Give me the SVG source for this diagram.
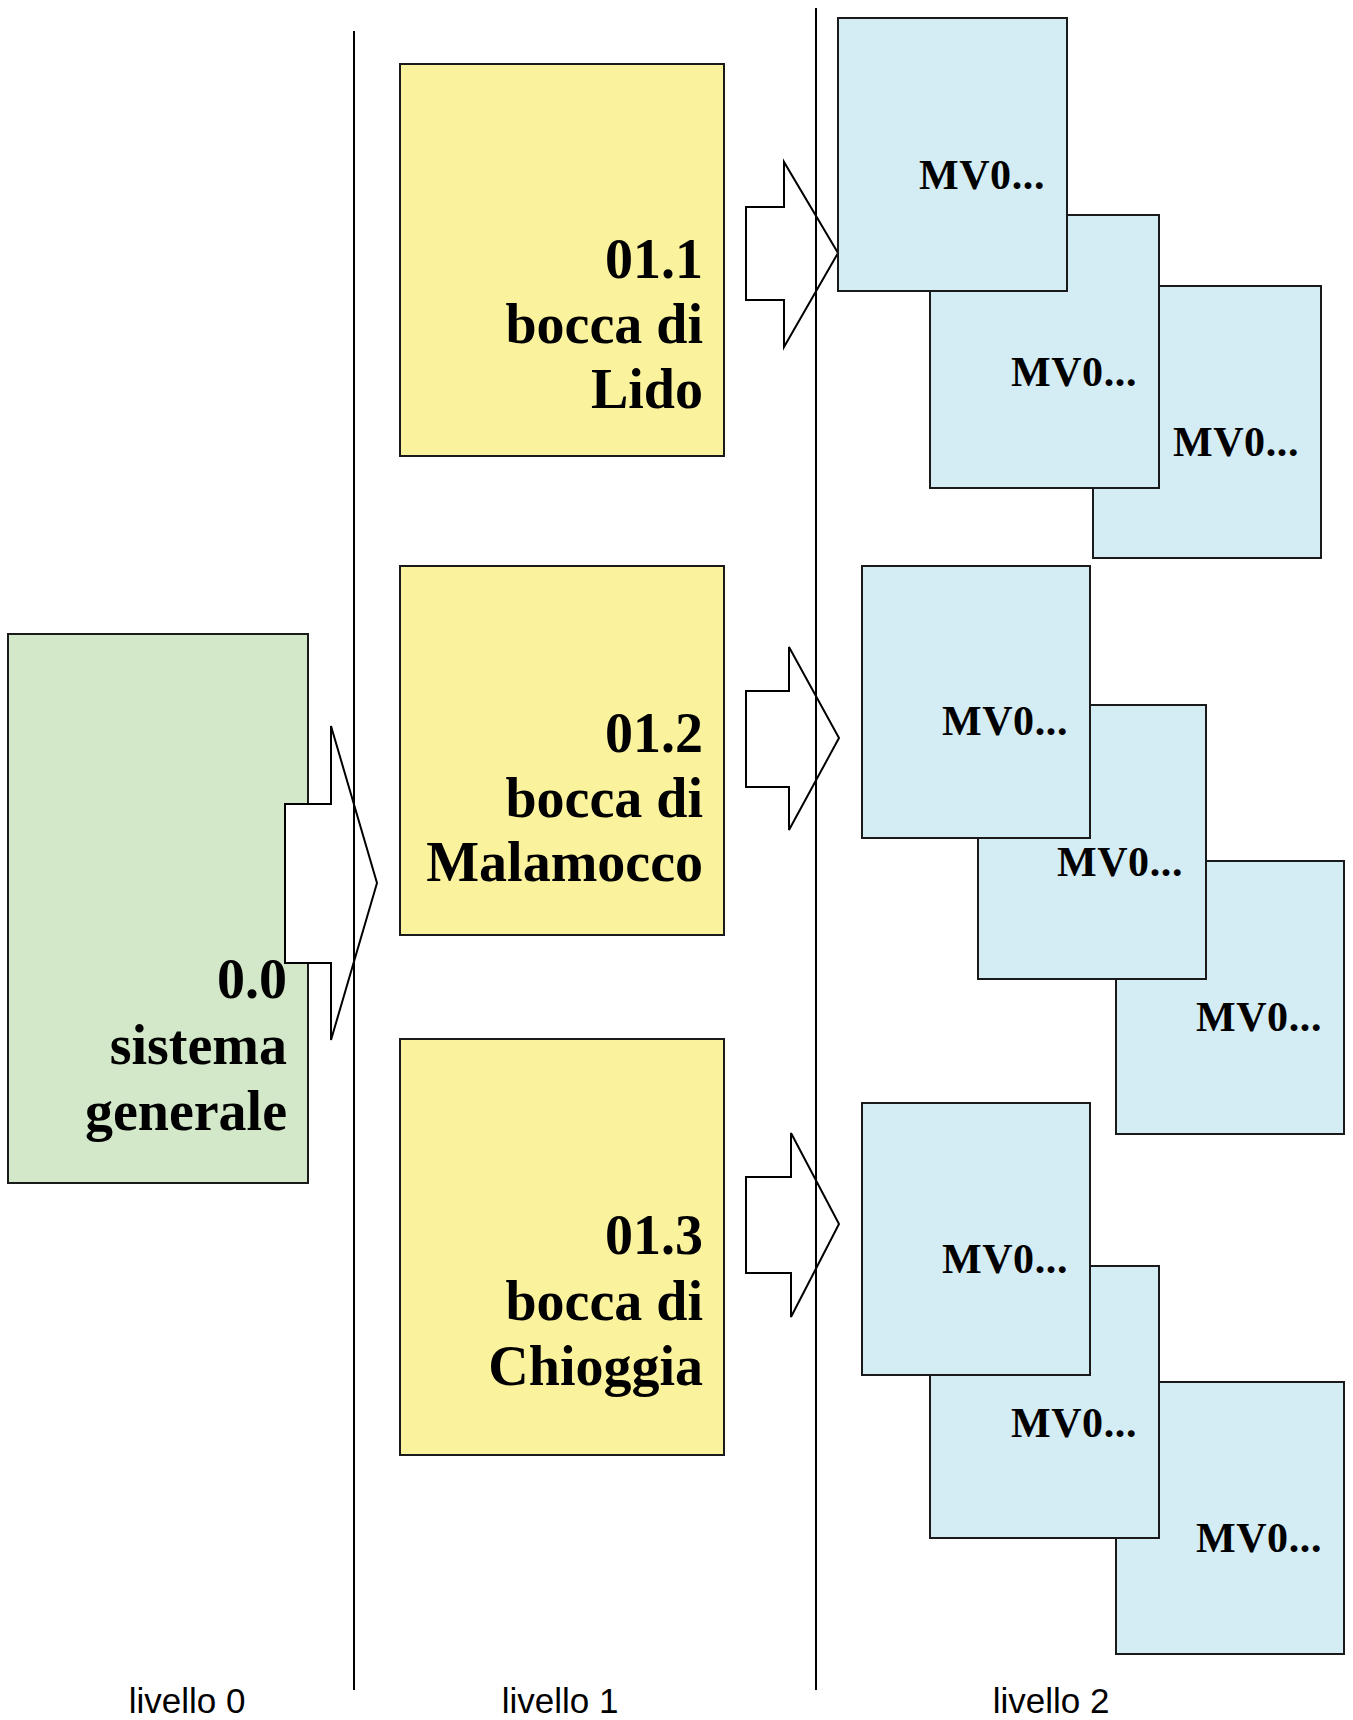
<svg xmlns="http://www.w3.org/2000/svg" width="1353" height="1720" viewBox="0 0 1353 1720">
<style>
.box{stroke:#1a1a1a;stroke-width:2}
.g{fill:#d2e8c8}
.y{fill:#faf29c}
.b{fill:#d4ecf3}
.arr{fill:#ffffff;stroke:#000;stroke-width:2;stroke-linejoin:miter}
.t{font-family:"Liberation Serif","Times New Roman",serif;font-weight:bold;font-size:56px;fill:#000;text-anchor:end}
.m{font-family:"Liberation Serif","Times New Roman",serif;font-weight:bold;font-size:42px;letter-spacing:0.6px;fill:#000;text-anchor:end}
.lv{font-family:"Liberation Sans",Arial,sans-serif;font-size:35px;fill:#000;text-anchor:middle}
.sep{stroke:#000;stroke-width:2}
</style>
<rect width="1353" height="1720" fill="#fff"/>

<g id="n0">
<rect class="box g" x="8" y="634" width="300" height="549"/>
</g>
<g id="connectors">
<polygon class="arr" points="285,804 331,804 331,726 377,883 331,1040 331,963 285,963"/>
<polygon class="arr" points="746,207 784,207 784,162 838,253 784,347 784,300 746,300"/>
<polygon class="arr" points="746,691 789,691 789,647 839,738 789,830 789,787 746,787"/>
<polygon class="arr" points="746,1177 791,1177 791,1133 839,1224 791,1317 791,1273 746,1273"/>
</g>
<g id="n0-label">
<text class="t" x="287" y="998">0.0</text>
<text class="t" x="287" y="1064">sistema</text>
<text class="t" x="287" y="1130">generale</text>
</g>

<g id="n11">
<rect class="box y" x="400" y="64" width="324" height="392"/>
<text class="t" x="703" y="278">01.1</text>
<text class="t" x="703" y="343">bocca di</text>
<text class="t" x="703" y="408">Lido</text>
</g>
<g id="n12">
<rect class="box y" x="400" y="566" width="324" height="369"/>
<text class="t" x="703" y="752">01.2</text>
<text class="t" x="703" y="817">bocca di</text>
<text class="t" x="703" y="881">Malamocco</text>
</g>
<g id="n13">
<rect class="box y" x="400" y="1039" width="324" height="416"/>
<text class="t" x="703" y="1254">01.3</text>
<text class="t" x="703" y="1320">bocca di</text>
<text class="t" x="703" y="1385">Chioggia</text>
</g>

<g id="n11c">
<rect class="box b" x="1093" y="286" width="228" height="272"/>
<text class="m" x="1299" y="456">MV0...</text>
</g>
<g id="n11b">
<rect class="box b" x="930" y="215" width="229" height="273"/>
<text class="m" x="1137" y="386">MV0...</text>
</g>
<g id="n11a">
<rect class="box b" x="838" y="18" width="229" height="273"/>
<text class="m" x="1045" y="189">MV0...</text>
</g>

<g id="n12c">
<rect class="box b" x="1116" y="861" width="228" height="273"/>
<text class="m" x="1322" y="1031">MV0...</text>
</g>
<g id="n12b">
<rect class="box b" x="978" y="705" width="228" height="274"/>
<text class="m" x="1183" y="876">MV0...</text>
</g>
<g id="n12a">
<rect class="box b" x="862" y="566" width="228" height="272"/>
<text class="m" x="1068" y="735">MV0...</text>
</g>

<g id="n13c">
<rect class="box b" x="1116" y="1382" width="228" height="272"/>
<text class="m" x="1322" y="1552">MV0...</text>
</g>
<g id="n13b">
<rect class="box b" x="930" y="1266" width="229" height="272"/>
<text class="m" x="1137" y="1437">MV0...</text>
</g>
<g id="n13a">
<rect class="box b" x="862" y="1103" width="228" height="272"/>
<text class="m" x="1068" y="1273">MV0...</text>
</g>

<g id="separators">
<line class="sep" x1="354" y1="31" x2="354" y2="1690"/>
<line class="sep" x1="816" y1="8" x2="816" y2="1690"/>
</g>
<g id="levels">
<text class="lv" x="187" y="1713">livello 0</text>
<text class="lv" x="560" y="1713">livello 1</text>
<text class="lv" x="1051" y="1713">livello 2</text>
</g>
</svg>
